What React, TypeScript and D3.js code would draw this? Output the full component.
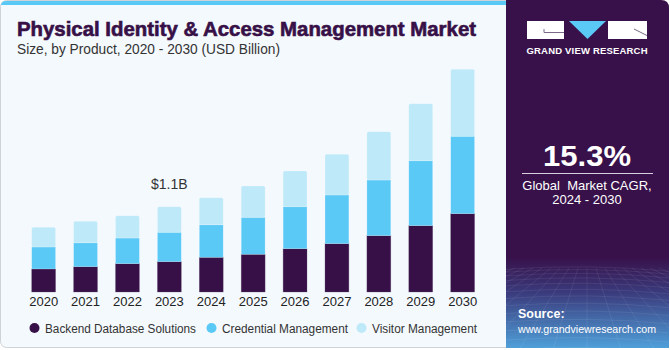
import React, { useEffect, useRef } from 'react';
import * as d3 from 'd3';

// values (USD billion)
const years = ['2020', '2021', '2022', '2023', '2024', '2025', '2026', '2027', '2028', '2029', '2030'];
const backend = [0.297, 0.326, 0.365, 0.391, 0.447, 0.486, 0.558, 0.623, 0.726, 0.855, 1.01];
const credential = [0.284, 0.309, 0.331, 0.379, 0.42, 0.477, 0.542, 0.628, 0.718, 0.838, 0.998];
const visitor = [0.254, 0.276, 0.288, 0.33, 0.348, 0.404, 0.46, 0.525, 0.623, 0.735, 0.864];
const seriesNames = ['Backend Database Solutions', 'Credential Management', 'Visitor Management'];
const seriesColors = ['#371047', '#5bc9f6', '#bde9f9'];
const annotation = { year: '2023', text: '$1.1B' };

const W = 670;
const H = 350;
const FONT = "'Liberation Sans', Arial, sans-serif";

const App = () => {
  const ref = useRef<SVGSVGElement | null>(null);

  useEffect(() => {
    const svg = d3.select(ref.current);
    svg.selectAll('*').remove();

    const defs = svg.append('defs');
    const grad = defs.append('linearGradient')
      .attr('id', 'panelGrad').attr('x1', 0).attr('y1', 0).attr('x2', 0).attr('y2', 1);
    grad.append('stop').attr('offset', '0.74').attr('stop-color', '#38114a');
    grad.append('stop').attr('offset', '0.84').attr('stop-color', '#3a3a7c');
    grad.append('stop').attr('offset', '1').attr('stop-color', '#4f9fd9');
    defs.append('clipPath').attr('id', 'panelClip')
      .append('rect').attr('x', 506).attr('y', 0).attr('width', 163).attr('height', 348);

    // card background
    svg.append('rect')
      .attr('x', 0.5).attr('y', 0.5).attr('width', 520).attr('height', 347)
      .attr('rx', 6).attr('fill', '#f4f9fd').attr('stroke', '#cfd3d7');
    svg.append('path')
      .attr('d', 'M1,6 Q1,1 6,1 L506,1 L506,5 L1,5 Z')
      .attr('fill', '#5bc9f6');

    // right panel
    svg.append('path')
      .attr('d', 'M506,0 L661,0 Q669,0 669,8 L669,348 L506,348 Z')
      .attr('fill', 'url(#panelGrad)');

    // faint perspective grid at the bottom of the panel
    const gridG = svg.append('g').attr('clip-path', 'url(#panelClip)')
      .attr('stroke', '#ffffff').attr('stroke-opacity', 0.11).attr('stroke-width', 0.7).attr('fill', 'none');
    const horizon = 268;
    d3.range(1, 14).forEach(i => {
      const y = horizon + Math.pow(i / 13, 1.6) * 82;
      gridG.append('path')
        .attr('d', `M506,${y} Q587,${y - 6} 669,${y + 2}`);
    });
    d3.range(-12, 13).forEach(i => {
      gridG.append('line')
        .attr('x1', 587 + i * 9).attr('y1', horizon)
        .attr('x2', 587 + i * 34).attr('y2', 350);
    });

    // logo
    const logo = svg.append('g');
    logo.append('rect').attr('x', 527).attr('y', 21).attr('width', 37).attr('height', 18).attr('fill', '#ffffff');
    logo.append('path').attr('d', 'M569,21 L606,21 L587.5,39 Z').attr('fill', '#5bc9f6');
    logo.append('rect').attr('x', 608).attr('y', 21).attr('width', 39).attr('height', 18).attr('fill', '#ffffff');
    logo.append('path').attr('d', 'M544,29 L544,32.5 L564,32.5')
      .attr('fill', 'none').attr('stroke', '#7a6a86').attr('stroke-width', 1);
    logo.append('path').attr('d', 'M634,29 L647,35.5')
      .attr('fill', 'none').attr('stroke', '#7a6a86').attr('stroke-width', 1);
    logo.append('text')
      .attr('x', 587).attr('y', 53.5).attr('text-anchor', 'middle')
      .attr('font-family', FONT).attr('font-weight', 700).attr('font-size', 9.5)
      .attr('fill', '#ffffff').attr('textLength', 121).attr('lengthAdjust', 'spacing')
      .text('GRAND VIEW RESEARCH');

    // CAGR block
    svg.append('text')
      .attr('x', 587).attr('y', 166).attr('text-anchor', 'middle')
      .attr('font-family', FONT).attr('font-weight', 700).attr('font-size', 30)
      .attr('fill', '#ffffff').attr('textLength', 88).attr('lengthAdjust', 'spacingAndGlyphs')
      .text('15.3%');
    svg.append('line')
      .attr('x1', 522).attr('x2', 653).attr('y1', 173.5).attr('y2', 173.5)
      .attr('stroke', '#d8d0de').attr('stroke-width', 1);
    svg.append('text')
      .attr('x', 587).attr('y', 189.5).attr('text-anchor', 'middle')
      .attr('font-family', FONT).attr('font-size', 13).attr('fill', '#ffffff')
      .attr('xml:space', 'preserve')
      .text('Global  Market CAGR,');
    svg.append('text')
      .attr('x', 587).attr('y', 204).attr('text-anchor', 'middle')
      .attr('font-family', FONT).attr('font-size', 13).attr('fill', '#ffffff')
      .text('2024 - 2030');

    // source
    svg.append('text')
      .attr('x', 518).attr('y', 318).attr('font-family', FONT).attr('font-weight', 700)
      .attr('font-size', 12.5).attr('fill', '#ffffff').text('Source:');
    svg.append('text')
      .attr('x', 518).attr('y', 333).attr('font-family', FONT)
      .attr('font-size', 11).attr('fill', '#ffffff')
      .attr('textLength', 138).attr('lengthAdjust', 'spacingAndGlyphs')
      .text('www.grandviewresearch.com');

    // titles
    svg.append('text')
      .attr('x', 17).attr('y', 35.5).attr('font-family', FONT).attr('font-weight', 700)
      .attr('font-size', 19.5).attr('fill', '#371047')
      .attr('textLength', 459).attr('lengthAdjust', 'spacingAndGlyphs')
      .attr('stroke', '#371047').attr('stroke-width', 0.6)
      .text('Physical Identity & Access Management Market');
    svg.append('text')
      .attr('x', 17).attr('y', 53.5).attr('font-family', FONT)
      .attr('font-size', 14).attr('fill', '#333333')
      .attr('textLength', 263).attr('lengthAdjust', 'spacingAndGlyphs')
      .text('Size, by Product, 2020 - 2030 (USD Billion)');

    // chart
    const data = years.map((year, i) => ({
      year,
      [seriesNames[0]]: backend[i],
      [seriesNames[1]]: credential[i],
      [seriesNames[2]]: visitor[i],
    }));
    const stack = d3.stack<any>().keys(seriesNames);
    const layers = stack(data);

    const x = d3.scaleBand()
      .domain(years)
      .range([22.7, 483.6])
      .paddingInner(0.43)
      .paddingOuter(0.215);
    const y = d3.scaleLinear().domain([0, 3]).range([292, 59.35]);

    const barsG = svg.append('g');
    layers.forEach((layer, li) => {
      barsG.append('g')
        .selectAll('rect')
        .data(layer)
        .enter()
        .append('rect')
        .attr('x', d => x(d.data.year) as number)
        .attr('y', d => y(d[1]))
        .attr('width', x.bandwidth())
        .attr('height', d => y(d[0]) - y(d[1]))
        .attr('rx', li === 2 ? 1.5 : 0)
        .attr('fill', seriesColors[li])
        .attr('stroke', li === 0 ? '#6a5478' : '#ffffff')
        .attr('stroke-opacity', li === 0 ? 0.5 : 0.35)
        .attr('stroke-width', 0.6);
    });

    // year labels
    svg.append('g')
      .selectAll('text')
      .data(years)
      .enter()
      .append('text')
      .attr('x', d => (x(d) as number) + x.bandwidth() / 2)
      .attr('y', 306)
      .attr('text-anchor', 'middle')
      .attr('font-family', FONT).attr('font-size', 13).attr('fill', '#222222')
      .text(d => d);

    // value annotation
    const ai = years.indexOf(annotation.year);
    svg.append('text')
      .attr('x', (x(annotation.year) as number) + x.bandwidth() / 2)
      .attr('y', y(backend[ai] + credential[ai] + visitor[ai]) - 17.5)
      .attr('text-anchor', 'middle')
      .attr('font-family', FONT).attr('font-size', 14).attr('fill', '#333333')
      .text(annotation.text);

    // legend
    const legendX = [34.5, 211.5, 361.5];
    const legendW = [151, 126, 105];
    const legend = svg.append('g')
      .selectAll('g')
      .data(seriesNames)
      .enter()
      .append('g')
      .attr('transform', (d, i) => `translate(${legendX[i]},328)`);
    legend.append('circle')
      .attr('r', 5).attr('fill', (d, i) => seriesColors[i]);
    legend.append('text')
      .attr('x', 10.5).attr('y', 4.5)
      .attr('font-family', FONT).attr('font-size', 12.5).attr('fill', '#333333')
      .attr('textLength', (d, i) => legendW[i]).attr('lengthAdjust', 'spacingAndGlyphs')
      .text(d => d);
  }, []);

  return (
    <div style={{ position: 'absolute', left: 0, top: 0, width: W, height: H }}>
      <svg ref={ref} width={W} height={H} style={{ display: 'block' }} />
    </div>
  );
};

export default App;
